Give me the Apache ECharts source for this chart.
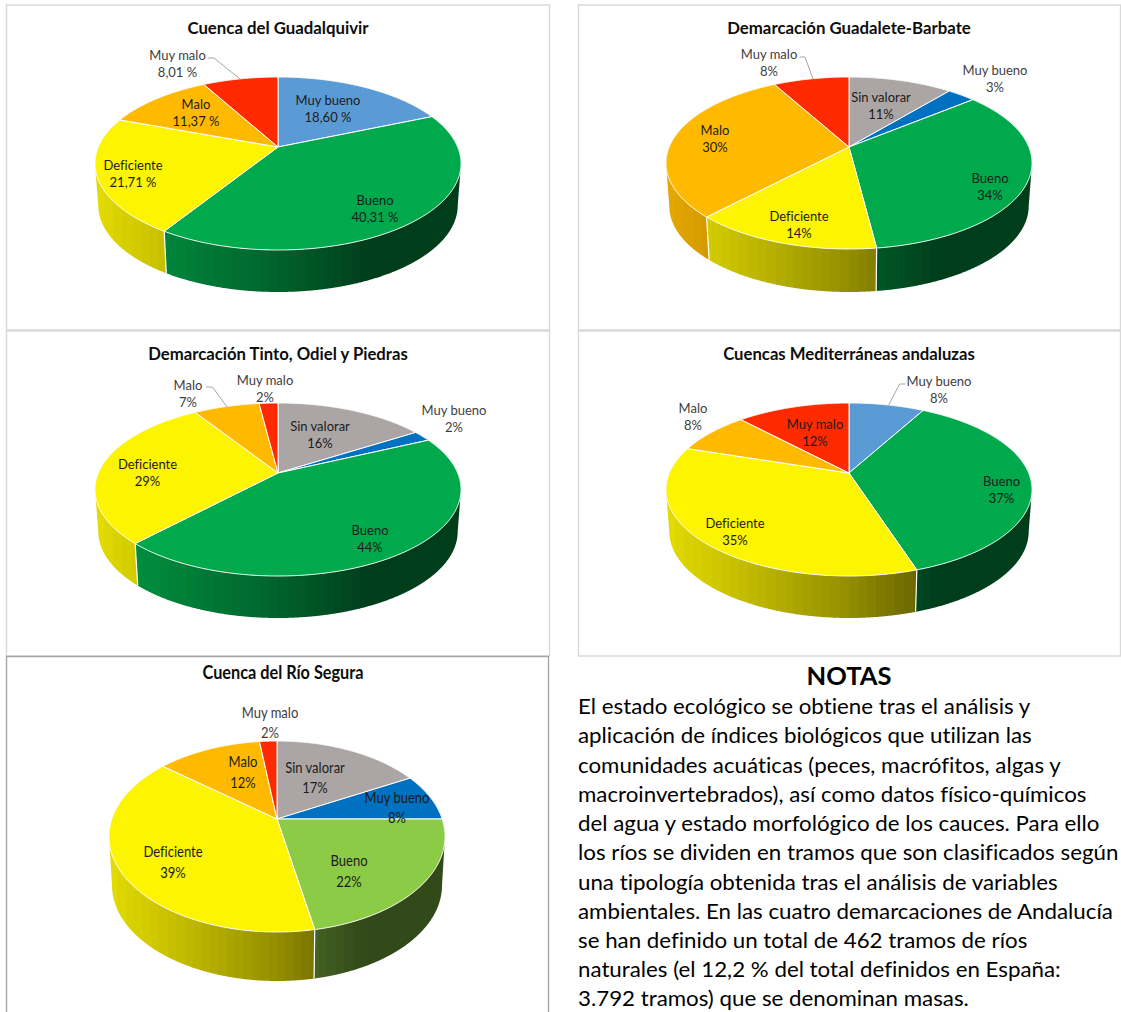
<!DOCTYPE html>
<html lang="es">
<head>
<meta charset="utf-8">
<title>Estado ecológico de las masas de agua</title>
<style>
  html, body { margin: 0; padding: 0; background: #fff; }
  #chart { width: 1121px; height: 1012px; }
  #chart text { font-variant-ligatures: none; }
</style>
<script src="https://cdn.jsdelivr.net/npm/echarts@6/dist/echarts.min.js"></script>
</head>
<body>
<div id="chart"></div>
<script>
// Valores de cada demarcación (porcentaje de tramos por estado ecológico)
const guadalquivirStates = ['Muy bueno', 'Bueno', 'Deficiente', 'Malo', 'Muy malo'];
const guadalquivirValues = [18.60, 40.31, 21.71, 11.37, 8.01];

const guadaleteStates = ['Sin valorar', 'Muy bueno', 'Bueno', 'Deficiente', 'Malo', 'Muy malo'];
const guadaleteValues = [11, 3, 34, 14, 30, 8];

const tintoStates = ['Sin valorar', 'Muy bueno', 'Bueno', 'Deficiente', 'Malo', 'Muy malo'];
const tintoValues = [16, 2, 44, 29, 7, 2];

const mediterraneasStates = ['Muy bueno', 'Bueno', 'Deficiente', 'Malo', 'Muy malo'];
const mediterraneasValues = [8, 37, 35, 8, 12];

const seguraStates = ['Sin valorar', 'Muy bueno', 'Bueno', 'Deficiente', 'Malo', 'Muy malo'];
const seguraValues = [17, 8, 22, 39, 12, 2];

const noteTitle = 'NOTAS';
const noteLines = [
  'El estado ecológico se obtiene tras el análisis y',
  'aplicación de índices biológicos que utilizan las',
  'comunidades acuáticas (peces, macrófitos, algas y',
  'macroinvertebrados), así como datos físico-químicos',
  'del agua y estado morfológico de los cauces. Para ello',
  'los ríos se dividen en tramos que son clasificados según',
  'una tipología obtenida tras el análisis de variables',
  'ambientales. En las cuatro demarcaciones de Andalucía',
  'se han definido un total de 462 tramos de ríos',
  'naturales (el 12,2 % del total definidos en España:',
  '3.792 tramos) que se denominan masas.'
];

// Colores por estado
const BLUE_LIGHT = '#5B9BD5', BLUE_DARK = '#0070C0', GREEN = '#00A94B', GREEN_LIGHT = '#8CCB46';
const baseColors = {
  'Sin valorar': '#ABA6A5', 'Bueno': GREEN, 'Deficiente': '#FDF400', 'Malo': '#FFBA00', 'Muy malo': '#FF2A00'
};
const FONT = 'Lato, "Open Sans", sans-serif';

// Aspecto de cada tarta: centro del vértice, extremos de la elipse superior y grosor de la pared
const pies = [
  { title: 'Cuenca del Guadalquivir', states: guadalquivirStates, values: guadalquivirValues, decimals: 2,
    blue: BLUE_LIGHT, green: GREEN, cx: 278, apexY: 147, top: 77, bottom: 250, rx: 183, depth: 42,
    font: 13, lineH: 17, scaleX: 1,
    labels: { 'Muy bueno': [328, 108.5, 1], 'Bueno': [375, 208.5, 1], 'Deficiente': [133, 173.5, 1], 'Malo': [196, 112.5, 1], 'Muy malo': [177.5, 63.5, 0] },
    leader: [[208, 58], [214, 58], [240, 79]] },
  { title: 'Demarcación Guadalete-Barbate', states: guadaleteStates, values: guadaleteValues, decimals: 0,
    blue: BLUE_DARK, green: GREEN, cx: 849, apexY: 147, top: 77, bottom: 249, rx: 183, depth: 43,
    font: 13, lineH: 17, scaleX: 1,
    labels: { 'Sin valorar': [881, 105.5, 1], 'Muy bueno': [995, 78.5, 0], 'Bueno': [990, 186.5, 1], 'Deficiente': [799, 224, 1], 'Malo': [715, 138.5, 1], 'Muy malo': [769, 62.5, 0] },
    leader: [[800, 57], [805, 57], [813, 79]] },
  { title: 'Demarcación Tinto, Odiel y Piedras', states: tintoStates, values: tintoValues, decimals: 0,
    blue: BLUE_DARK, green: GREEN, cx: 278, apexY: 473, top: 403, bottom: 576, rx: 183, depth: 42,
    font: 13, lineH: 17, scaleX: 1,
    labels: { 'Sin valorar': [320, 434, 1], 'Muy bueno': [454, 418.5, 0], 'Bueno': [370, 538.5, 1], 'Deficiente': [147.5, 472.5, 1], 'Malo': [188, 393.5, 0], 'Muy malo': [265, 388.5, 0] },
    leader: [[206, 387], [212.5, 387], [227, 407]] },
  { title: 'Cuencas Mediterráneas andaluzas', states: mediterraneasStates, values: mediterraneasValues, decimals: 0,
    blue: BLUE_LIGHT, green: GREEN, cx: 849, apexY: 473, top: 403, bottom: 576, rx: 183, depth: 42,
    font: 13, lineH: 17, scaleX: 1,
    labels: { 'Muy bueno': [939, 389.5, 0], 'Bueno': [1001.5, 489, 1], 'Deficiente': [735, 531, 1], 'Malo': [693, 416.5, 0], 'Muy malo': [815, 432, 1] },
    leader: [[905.5, 384], [899.6, 384], [888.7, 405]] },
  { title: 'Cuenca del Río Segura', states: seguraStates, values: seguraValues, decimals: 0,
    blue: BLUE_DARK, green: GREEN_LIGHT, cx: 277, apexY: 819, top: 741, bottom: 932, rx: 168, depth: 49,
    font: 15.5, lineH: 20.5, scaleX: 0.84,
    labels: { 'Sin valorar': [315, 777, 1], 'Muy bueno': [397, 807, 1], 'Bueno': [349, 870.5, 1], 'Deficiente': [173, 861.5, 1], 'Malo': [243, 771.5, 1], 'Muy malo': [270, 722, 0] },
    leader: null }
];

// Posiciones de los títulos y de los marcos
const titleAnchors = [[278, 27.5, 16.8, 1], [849, 27.5, 16.8, 1], [278, 353.5, 16.7, 1], [849, 353.5, 16.7, 1], [283, 672.5, 18.5, 0.88]];
const frames = [
  [6.5, 5, 543, 325, '#D9D9D9'], [578.5, 5, 542, 325, '#D9D9D9'],
  [6.5, 331, 543, 325, '#D9D9D9'], [578.5, 331, 542, 325, '#D9D9D9'],
  [6.5, 656.5, 542, 370, '#A6A6A6']
];

// Sombreado de la pared lateral según la posición horizontal (-1 izquierda, 1 derecha)
const shadeStops = [[-1, 0.90], [-0.6, 0.78], [0, 0.58], [0.35, 0.43], [0.5, 0.36], [1, 0.36]];
function shadeAt(u) {
  for (let i = 1; i < shadeStops.length; i++) {
    const [u0, s0] = shadeStops[i - 1], [u1, s1] = shadeStops[i];
    if (u <= u1) return s0 + (s1 - s0) * (u - u0) / (u1 - u0);
  }
  return shadeStops[shadeStops.length - 1][1];
}
function hexToRgb(hex) {
  const n = parseInt(hex.slice(1), 16);
  return [(n >> 16) & 255, (n >> 8) & 255, n & 255];
}
// Degradado por bandas verticales, en coordenadas de pantalla
function wallFill(color, pie) {
  const rgb = hexToRgb(color), bands = 40, colorStops = [];
  for (let i = 0; i < bands; i++) {
    const s = shadeAt(-1 + 2 * (i + 0.5) / bands);
    const c = 'rgb(' + rgb.map(v => Math.round(v * s)).join(',') + ')';
    colorStops.push({ offset: i / bands, color: c }, { offset: (i + 1) / bands, color: c });
  }
  return { type: 'linear', global: true, x: pie.cx - pie.rx, y: 0, x2: pie.cx + pie.rx, y2: 0, colorStops };
}

// Proyección en perspectiva del círculo: t es la fracción de vuelta desde arriba, en sentido horario
function projector(pie) {
  const up = pie.apexY - pie.top, dn = pie.bottom - pie.apexY;
  const k = (dn - up) / (dn + up), b = up * (1 + k), a = pie.rx * Math.sqrt(1 - k * k);
  return t => {
    const th = t * 2 * Math.PI, X = Math.sin(th), Y = -Math.cos(th), d = 1 - k * Y;
    return [pie.cx + a * X / d, pie.apexY + b * Y / d];
  };
}
const sink = (pie, p) => [pie.cx + (p[0] - pie.cx) * 0.982, p[1] + pie.depth];

function stateColor(pie, name) {
  if (name === 'Muy bueno') return pie.blue;
  if (name === 'Bueno') return pie.green;
  return baseColors[name];
}
function formatValue(pie, v) {
  return pie.decimals ? v.toFixed(pie.decimals).replace('.', ',') + ' %' : v + '%';
}

function pieSeries(pie) {
  const project = projector(pie);
  const ellipseMidY = (pie.top + pie.bottom) / 2;
  let running = 0;
  const data = pie.states.map((name, i) => {
    const start = running;
    running += pie.values[i];
    return { name, value: [pie.values[i], start, running] };
  });
  return {
    type: 'custom', name: pie.title, coordinateSystem: 'none', silent: true, animation: false, data,
    renderItem(params, api) {
      const idx = params.dataIndex, name = pie.states[idx];
      const t0 = api.value(1) / 100, t1 = api.value(2) / 100;
      const color = stateColor(pie, name);
      const steps = Math.max(4, Math.ceil((t1 - t0) * 1440));
      const rim = [];
      for (let i = 0; i <= steps; i++) rim.push(project(t0 + (t1 - t0) * i / steps));
      const children = [];
      // Pared lateral: sólo el tramo del borde que queda en la mitad delantera
      const front = rim.filter(p => p[1] >= ellipseMidY);
      if (front.length > 1) {
        const fill = wallFill(color, pie);
        children.push({ type: 'polygon', z2: 1, shape: { points: front.concat(front.map(p => sink(pie, p)).reverse()) },
          style: { fill } });
      }
      // Arista blanca entre paredes contiguas
      const edge = project(t1);
      if (edge[1] > ellipseMidY) {
        const low = sink(pie, edge);
        children.push({ type: 'line', z2: 2, shape: { x1: edge[0], y1: edge[1], x2: low[0], y2: low[1] },
          style: { stroke: '#fff', lineWidth: 1.2 } });
      }
      children.push({ type: 'polygon', z2: 3, shape: { points: [[pie.cx, pie.apexY]].concat(rim) },
        style: { fill: color, stroke: '#fff', lineWidth: 1, lineJoin: 'round' } });
      const [lx, ly, inside] = pie.labels[name];
      children.push({ type: 'text', z2: 5, x: lx, y: ly, scaleX: pie.scaleX,
        style: { text: name + '\n' + formatValue(pie, api.value(0)), fontFamily: FONT, fontSize: pie.font,
          lineHeight: pie.lineH, align: 'center', verticalAlign: 'middle', fill: inside ? '#1c1c1c' : '#404040' } });
      if (idx === 0 && pie.leader) {
        children.push({ type: 'polyline', z2: 4, shape: { points: pie.leader },
          style: { stroke: '#A6A6A6', lineWidth: 1, fill: null } });
      }
      return { type: 'group', children };
    }
  };
}

const frameGraphics = frames.map(([x, y, width, height, stroke]) => ({
  type: 'rect', z: -1, silent: true, shape: { x, y, width, height },
  style: { fill: '#fff', stroke, lineWidth: 1.4 }
}));
const titleGraphics = pies.map((pie, i) => ({
  type: 'text', silent: true, x: titleAnchors[i][0], y: titleAnchors[i][1], scaleX: titleAnchors[i][3],
  style: { text: pie.title, fontFamily: FONT, fontWeight: 'bold', fontSize: titleAnchors[i][2],
    fill: '#0d0d0d', align: 'center', verticalAlign: 'middle' }
}));
const noteGraphics = [
  { type: 'text', silent: true, x: 849, y: 675,
    style: { text: noteTitle, fontFamily: FONT, fontWeight: 'bold', fontSize: 25.5, fill: '#000', align: 'center', verticalAlign: 'middle' } }
].concat(noteLines.map((line, i) => ({
  type: 'text', silent: true, x: 578, y: 706.5 + i * 29.22, scaleX: 1.062,
  style: { text: line, fontFamily: FONT, fontSize: 21, fill: '#000', align: 'left', verticalAlign: 'middle' }
})));

const chart = echarts.init(document.getElementById('chart'), null, { renderer: 'svg' });
chart.setOption({
  animation: false,
  backgroundColor: '#fff',
  graphic: frameGraphics.concat(titleGraphics, noteGraphics),
  series: pies.map(pieSeries)
});
</script>
</body>
</html>
